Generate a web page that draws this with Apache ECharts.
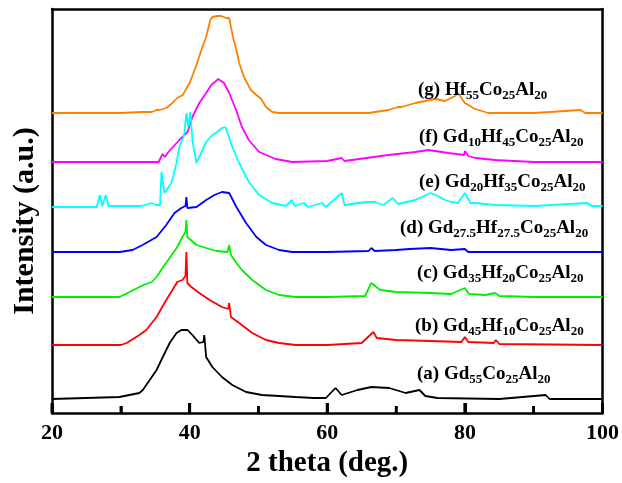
<!DOCTYPE html>
<html><head><meta charset="utf-8">
<script src="https://cdn.jsdelivr.net/npm/echarts@6/dist/echarts.min.js"></script>
<style>html,body{margin:0;padding:0;background:#fff}#c{width:622px;height:483px}</style>
</head><body><div id="c"></div>
<script>
// x: 2 theta (deg.), y: intensity (a.u., stacked offsets included)
const xTicks = [20, 40, 60, 80, 100];
const gd55 = [[20,14],[29.8,16],[32.7,20],[33.2,23],[35.2,43],[36.1,56],[37.1,70],[38.1,80],[38.8,83],[39.7,83],[40.4,78],[41.4,70],[42.0,71],[42.13,78],[42.4,56],[43.3,46],[44.7,36],[46.2,28],[48.2,21],[50.5,18],[53.0,17],[55.4,16],[58,15],[59.8,15],[61.2,25],[62.1,18],[64.4,23],[66.4,26],[69.0,25],[71.4,20],[73.4,23],[74.25,17],[76.0,15],[85,14],[91.75,18],[92.3,14],[100,14]];
const gd45 = [[20,68],[30,68],[30.85,70],[32.7,78],[33.7,83],[35.2,96],[36.6,113],[37.5,123],[38.2,131],[38.95,133],[39.4,137],[39.53,161],[39.67,130],[40.25,126],[41.4,120],[42.9,113],[44.7,106],[45.6,104],[45.75,110],[46.0,96],[47.2,90],[49.1,80],[51.1,73],[53.0,70],[55.4,68],[60,68],[65,70],[66.7,81],[67.2,75],[70,73],[75,72],[79.5,71],[80.0,76],[80.5,71],[84.2,70],[84.5,73],[85,69],[100,68]];
const gd35 = [[20,116],[29.8,116],[31.0,120],[32.7,126],[33.3,128],[34.5,131],[35.2,136],[36.06,145],[37.1,155],[38.2,166],[38.95,176],[39.4,181],[39.53,193],[39.67,176],[41.0,168],[42.4,165],[43.9,162],[45.5,161],[45.75,168],[46.0,158],[46.8,150],[47.6,143],[49.1,133],[51.1,123],[53.0,118],[55.4,116],[60,116],[65.5,117],[66.4,130],[67.7,123],[70,121],[75,120],[78,119],[80.0,125],[80.6,119],[83,118],[84.4,120],[85,117],[90,116],[100,116]];
const gd275 = [[20,161],[29.84,161],[31.7,163],[33.16,168],[35.2,176],[36.6,188],[37.8,200],[38.8,205],[39.4,207],[39.53,216],[39.67,205],[41.0,206],[42.4,213],[43.6,218],[44.7,221],[45.75,220],[46.8,206],[48.2,190],[49.7,176],[51.1,168],[53.0,163],[54.9,161],[60,161],[66.0,162],[66.4,165],[66.9,162],[70,163],[72,164],[75,165],[78,163],[80.0,164],[80.5,161],[100,161]];
const gd20 = [[20,206],[26.5,206],[26.94,218],[27.3,207],[27.81,218],[28.2,207],[33,207],[34.5,210],[35.2,208],[35.7,208],[35.91,241],[36.35,220],[37.36,230],[38.1,250],[38.5,266],[39.2,278],[39.53,300],[39.82,286],[40.11,301],[40.4,273],[40.98,250],[41.4,256],[42.4,271],[43.3,278],[44.0,281],[44.7,285],[45.2,286],[45.46,281],[45.75,280],[46.2,266],[47.2,250],[48.6,231],[50.1,218],[52.0,210],[54.0,207],[54.86,213],[55.3,207],[56.6,210],[57.2,206],[59.2,210],[59.8,206],[62.1,220],[62.5,208],[64.56,210],[66.0,211],[66.9,211],[68.2,208],[69.5,215],[70.3,209],[72.8,213],[75.0,220],[76.1,217],[77.1,213],[78.0,211],[79.0,210],[80.0,220],[80.8,210],[81.5,210],[84.4,208],[90,207],[97.8,210],[98.4,207],[100,207]];
const gd10 = [[20,251],[30,251],[35.5,251],[36.06,259],[36.4,256],[36.8,260],[38.5,273],[39.7,281],[40.4,296],[41.4,310],[42.4,320],[43.15,328],[44.16,334],[45.0,330],[45.75,320],[46.76,303],[47.6,286],[48.6,273],[50.1,261],[52.5,254],[54.9,251],[60,252],[62.1,255],[62.5,252],[68.9,258],[72.8,261],[74.7,263],[77.6,260],[79.9,258],[80.0,262],[80.5,257],[81.5,255],[84.4,253],[90,251],[100,251]];
const hf55 = [[20,300],[30,300],[33,301],[34.5,301],[35.2,303],[35.6,303],[36.6,305],[37.5,310],[38.2,315],[39.0,318],[40.0,330],[41.0,348],[41.7,363],[42.4,376],[43.0,393],[43.3,396],[44.0,397],[44.6,397],[45.3,395],[45.75,395],[46.0,386],[46.3,376],[46.8,363],[47.2,350],[47.9,336],[48.9,323],[49.7,318],[50.4,314],[51.1,306],[52.0,301],[53.0,300],[60,300],[66,300],[68.9,303],[70.3,306],[70.8,306],[72.8,310],[75.7,314],[77.1,312],[78.6,317],[79.0,320],[80.0,310],[81.5,304],[83.4,300],[90,300],[96.8,303],[97.5,300],[100,300]];

const seriesNames = ['(a)','(b)','(c)','(d)','(e)','(f)','(g)'];
const seriesData = [gd55, gd45, gd35, gd275, gd20, gd10, hf55];
const seriesColors = ['#000000','#ff0000','#00ee00','#0000ff','#00ffff','#ff00ff','#ff8000'];
const labelTexts = [
  '{n|(a) Gd}{s|55}{n|Co}{s|25}{n|Al}{s|20}',
  '{n|(b) Gd}{s|45}{n|Hf}{s|10}{n|Co}{s|25}{n|Al}{s|20}',
  '{n|(c) Gd}{s|35}{n|Hf}{s|20}{n|Co}{s|25}{n|Al}{s|20}',
  '{n|(d) Gd}{s|27.5}{n|Hf}{s|27.5}{n|Co}{s|25}{n|Al}{s|20}',
  '{n|(e) Gd}{s|20}{n|Hf}{s|35}{n|Co}{s|25}{n|Al}{s|20}',
  '{n|(f) Gd}{s|10}{n|Hf}{s|45}{n|Co}{s|25}{n|Al}{s|20}',
  '{n|(g) Hf}{s|55}{n|Co}{s|25}{n|Al}{s|20}'
];
const labelPos = [[417,374],[415,326],[417,273],[400,228],[419,182],[419,137],[418,90]];
const yTitle = 'Intensity (a.u.)';
const xTitle = '2 theta (deg.)';

// tick marks (major at labelled values, minor halfway between)
const tickMarks = [];
xTicks.forEach((v,i)=>{ tickMarks.push([v,0,1]); if(i<xTicks.length-1) tickMarks.push([(v+xTicks[i+1])/2,0,0]); });

const FONT = "'Liberation Serif','Times New Roman',serif";
const chart = echarts.init(document.getElementById('c'), null, {renderer:'canvas'});
const rich = {
  n:{fontSize:19,fontWeight:'bold',fontFamily:FONT,color:'#000',lineHeight:24,verticalAlign:'middle'},
  s:{fontSize:13,fontWeight:'bold',fontFamily:FONT,color:'#000',lineHeight:13,verticalAlign:'bottom'}
};
function frameLine(){ return {show:true,onZero:false,lineStyle:{color:'#000',width:2.5}}; }
const xMin = xTicks[0], xMax = xTicks[xTicks.length-1];
chart.setOption({
  animation:false,
  backgroundColor:'#fff',
  grid:{left:52,right:17,top:9,bottom:70},
  xAxis:[
   {type:'value',position:'bottom',min:xMin,max:xMax,interval:20,
    name:xTitle,nameLocation:'middle',nameGap:35,
    nameTextStyle:{fontSize:29,fontWeight:'bold',fontFamily:FONT,color:'#000'},
    axisLine:frameLine(),
    axisTick:{show:true,inside:true,length:10,lineStyle:{color:'#000',width:3}},
    minorTick:{show:true,splitNumber:2,length:7,lineStyle:{color:'#000',width:2.5}},
    axisLabel:{fontSize:22,fontWeight:'bold',fontFamily:FONT,color:'#000',margin:9},
    splitLine:{show:false}},
   {type:'value',position:'top',min:xMin,max:xMax,
    axisLine:frameLine(),axisTick:{show:false},axisLabel:{show:false},splitLine:{show:false}}
  ],
  yAxis:[{type:'value',position:'left',min:0,max:404,
    axisLine:frameLine(),axisTick:{show:false},axisLabel:{show:false},splitLine:{show:false}},
   {type:'value',position:'right',min:0,max:404,
    axisLine:frameLine(),axisTick:{show:false},axisLabel:{show:false},splitLine:{show:false}}],
  series: seriesData.map((d,i)=>({name:seriesNames[i],type:'line',xAxisIndex:0,yAxisIndex:0,data:d,showSymbol:false,symbol:'none',
    lineStyle:{color:seriesColors[i],width:1.8},z:10-i})).concat([{
    type:'custom',name:'ticks',xAxisIndex:0,yAxisIndex:0,data:tickMarks,clip:false,z:30,silent:true,
    encode:{x:0,y:1},
    renderItem:function(params,api){
      const p = api.coord([api.value(0), api.value(1)]);
      const major = api.value(2) === 1;
      const len = major ? 10 : 7;
      return {type:'line',shape:{x1:p[0],y1:p[1],x2:p[0],y2:p[1]-len},
        style:{stroke:'#000',lineWidth:major?3:2.5}};
    }
  }]),
  graphic: labelTexts.map((t,i)=>({type:'text',x:labelPos[i][0],y:labelPos[i][1],z:100,
    style:{text:t,rich:rich,verticalAlign:'middle',align:'left'}})).concat([
    {type:'text',x:25,y:221,rotation:Math.PI/2,z:100,
     style:{text:yTitle,fontSize:30,fontWeight:'bold',fontFamily:FONT,fill:'#000',align:'center',verticalAlign:'middle'}}
  ])
});
</script></body></html>
